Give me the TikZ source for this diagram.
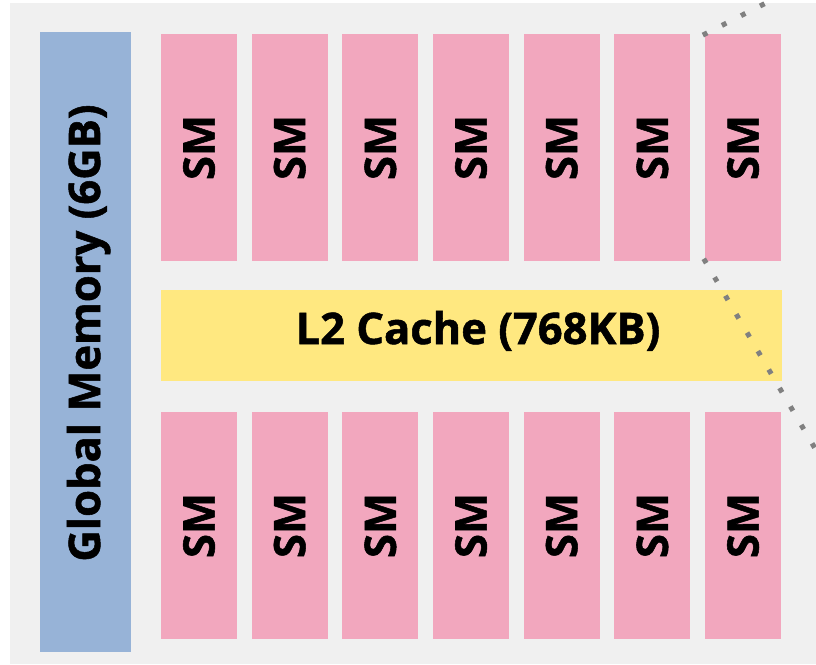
\documentclass[tikz,border=0pt]{standalone}
\usepackage{fontspec}
\usetikzlibrary{calc}
\newfontfamily\labfont{Open Sans}[BoldFeatures={FakeBold=1.2}]
\definecolor{bggray}{RGB}{240,240,240}
\definecolor{smpink}{RGB}{242,167,190}
\definecolor{cacheyellow}{RGB}{255,232,128}
\definecolor{memblue}{RGB}{151,179,215}
\definecolor{dotgray}{RGB}{128,128,128}
\tikzset{
  blk/.style={inner sep=0pt, outer sep=0pt, anchor=north west, draw=none},
  smbox/.style={blk, fill=smpink, minimum width=76pt, minimum height=227pt},
  lab/.style={font=\labfont\bfseries\fontsize{43.5}{43.5}\selectfont, inner sep=0pt, text=black},
  dotline/.style={draw=dotgray, line width=5pt, dash pattern=on 5pt off 16.4pt}
}
\begin{document}
\begin{tikzpicture}[x=1pt,y=-1pt]
\useasboundingbox (0,0) rectangle (816,664);
\fill[white] (0,0) rectangle (816,664);
\clip (0,0) rectangle (816,664);
\fill[bggray] (10,3) rectangle (816,664);
% global memory
\node[blk, fill=memblue, minimum width=91pt, minimum height=620pt] (mem) at (40,32) {};
\node[lab, rotate=90, anchor=base] (memlab) at (100,333) {Global Memory (6GB)};
% L2 cache
\node[blk, fill=cacheyellow, minimum width=621pt, minimum height=91pt] (cache) at (161,290) {};
\node[lab, anchor=base] (cachelab) at (478,344) {L2 Cache (768KB)};
% SMs
\foreach \i in {0,...,6}{
  \node[smbox] (top\i) at ({161+\i*90.67},34) {};
  \node[lab, rotate=90] (toplab\i) at (top\i.center) {SM};
  \node[smbox] (bot\i) at ({161+\i*90.67},412) {};
  \node[lab, rotate=90] (botlab\i) at (bot\i.center) {SM};
}
% dotted zoom lines
\coordinate (z1end) at ($(top6.north west)+(114,-58)$);
\coordinate (z2end) at ($(top6.south west)+(130,221.5)$);
\draw[dotline] ($(top6.north west)+(-2.2,1.1)$) -- (z1end);
\draw[dotline] ($(top6.south west)+(-1.3,-2.2)$) -- (z2end);
\end{tikzpicture}
\end{document}
